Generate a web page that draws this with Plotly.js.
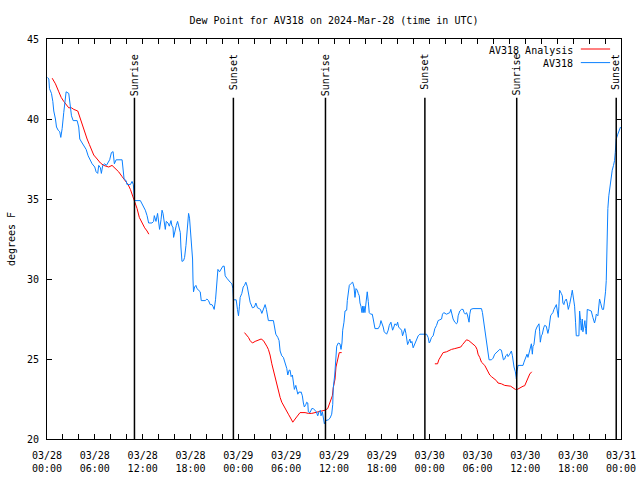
<!DOCTYPE html>
<html>
<head>
<meta charset="utf-8">
<script src="https://cdn.plot.ly/plotly-3.0.1.min.js"></script>
<style>html,body{margin:0;padding:0;background:#fff}#chart{width:640px;height:480px}</style>
</head>
<body>
<div id="chart"></div>
<script>
// Hours since 2024-03-28 00:00 UTC
const startUTC = Date.UTC(2024, 2, 28);

const av318Hours = [0.06,0.23,0.31,0.56,0.73,0.85,1.06,1.19,1.40,1.60,1.73,1.90,2.10,2.32,2.40,2.73,2.85,3.07,3.28,3.78,3.98,4.11,4.41,4.70,4.91,5.16,5.45,5.66,5.99,6.16,6.36,6.49,6.70,6.82,6.99,7.24,7.45,7.66,7.86,8.08,8.29,8.45,8.67,9.42,9.54,9.67,9.92,10.04,10.46,10.67,10.83,10.92,10.99,11.71,11.92,12.25,12.33,12.55,12.75,13.17,13.37,13.46,13.67,13.87,14.00,14.12,14.30,14.43,14.55,14.71,14.84,14.96,15.18,15.34,15.55,15.68,15.80,15.88,16.00,16.22,16.38,16.55,16.72,16.80,16.93,17.13,17.26,17.43,17.56,17.76,17.88,17.97,18.09,18.26,18.31,18.38,18.51,18.68,18.81,19.01,19.22,19.35,19.85,20.06,20.26,20.47,20.69,20.81,20.97,21.14,21.22,21.31,21.44,21.64,21.81,22.06,22.23,22.35,22.56,22.77,22.98,23.19,23.32,23.39,23.73,23.89,24.02,24.14,24.23,24.44,24.61,24.77,24.94,25.11,25.27,25.48,25.77,26.02,26.20,26.40,26.61,26.77,26.95,27.15,27.36,27.52,27.65,27.77,28.40,28.53,28.70,28.95,29.11,29.24,29.45,29.65,29.87,30.08,30.20,30.37,30.49,30.62,30.78,30.90,31.03,31.21,31.33,31.46,31.62,31.74,31.87,32.03,32.16,32.28,32.46,32.58,32.71,32.78,32.99,33.21,33.41,33.62,33.78,33.96,34.12,34.29,34.37,34.54,34.66,34.79,34.96,35.29,35.50,35.71,35.84,35.91,36.09,36.13,36.25,36.34,36.54,36.75,36.88,37.00,37.09,37.25,37.38,37.59,37.67,37.79,37.92,38.09,38.34,38.51,38.63,38.76,38.92,39.04,39.17,39.26,39.38,39.51,39.59,39.67,39.76,39.88,40.01,40.17,40.30,40.42,40.60,40.80,40.92,41.05,41.14,41.55,41.76,41.89,42.05,42.17,42.30,42.60,42.80,42.93,43.14,43.23,43.35,43.51,43.64,43.85,43.98,44.10,44.27,44.48,44.60,44.77,44.89,45.02,45.10,45.23,45.39,45.51,45.64,45.77,45.93,46.14,46.36,46.56,46.77,47.61,47.81,47.94,48.02,48.23,48.44,48.65,48.86,49.06,49.27,49.49,49.61,49.77,50.11,50.31,50.53,50.65,50.81,50.94,51.15,51.37,51.49,51.57,51.78,51.99,52.19,52.32,52.49,52.62,52.74,52.82,52.94,53.03,53.15,53.44,54.07,54.50,54.62,54.78,54.91,55.03,55.16,55.32,55.45,55.75,55.95,56.16,56.37,56.57,56.79,57.00,57.12,57.25,57.41,57.54,57.75,57.83,58.04,58.17,58.25,58.38,58.45,58.58,58.75,58.88,58.95,59.08,59.58,59.71,59.83,60.04,60.21,60.33,60.46,60.63,60.76,60.88,60.96,61.08,61.17,61.29,61.46,61.58,61.71,61.80,61.88,62.01,62.13,62.30,62.42,62.63,62.71,62.83,62.96,63.05,63.17,63.30,63.46,63.59,63.76,63.89,64.01,64.14,64.21,64.30,64.51,64.64,64.71,64.84,64.93,65.14,65.26,65.39,65.55,65.68,65.77,65.89,66.05,66.18,66.30,66.39,66.72,66.81,66.93,67.02,67.14,67.22,67.34,67.47,67.56,67.64,67.77,67.97,68.27,68.47,68.68,68.81,68.90,69.10,69.22,69.31,69.47,69.65,69.81,69.94,70.06,70.15,70.22,70.35,70.47,70.65,70.77,70.90,71.06,71.19,71.28,71.40,71.60,71.81,71.94];

const av318DewF = [42.6,42.5,41.9,41.6,41.1,40.5,40.0,39.5,39.3,39.2,38.85,39.4,40.4,41.7,41.7,41.6,41.0,40.2,39.9,39.9,39.5,38.75,38.5,38.3,38.1,37.7,37.4,37.2,37.0,36.7,36.6,37.1,36.95,36.6,37.1,37.2,37.1,37.3,37.45,37.9,37.96,37.2,37.45,37.45,36.9,36.25,36.15,35.9,35.9,36.1,35.9,35.3,34.9,34.9,34.7,34.4,34.3,33.96,33.5,33.5,33.6,33.96,33.6,34.1,33.65,33.1,33.7,34.3,34.1,33.6,33.1,33.6,33.5,33.3,33.65,33.3,33.25,32.6,32.95,33.35,33.6,33.3,32.9,32.0,31.1,31.15,31.35,32.1,33.1,34.1,33.8,33.3,32.3,31.25,30.0,29.2,29.5,29.6,29.4,29.3,29.2,28.65,28.65,28.75,28.65,28.4,28.4,28.3,28.1,28.7,29.4,29.9,30.6,30.45,30.6,30.8,30.8,30.2,30.05,29.9,29.8,29.7,29.4,28.7,28.7,28.1,27.7,28.3,28.85,29.1,29.5,29.6,29.8,29.55,29.2,28.55,28.2,28.25,28.5,28.2,28.15,28.1,27.85,28.1,28.4,28.1,27.7,27.4,27.4,27.1,26.55,26.35,26.15,25.5,25.2,25.1,24.8,24.4,24.0,24.3,24.3,23.9,24.0,23.55,23.1,23.35,23.1,22.8,22.95,22.9,22.95,22.7,22.25,22.0,22.15,22.3,22.25,21.7,21.65,21.9,21.9,21.8,21.7,21.45,21.7,21.8,21.45,21.7,21.3,20.95,21.15,21.2,21.3,21.55,22.15,23.2,24.0,24.4,25.2,25.8,26.0,25.95,25.6,26.0,26.8,27.3,28.0,28.05,28.65,29.2,29.6,29.7,29.8,29.5,28.85,29.4,29.3,29.1,28.95,28.5,28.3,27.9,28.3,27.9,28.3,27.9,28.4,29.2,28.6,27.9,27.8,27.8,27.5,27.2,26.9,26.9,27.1,27.4,27.2,27.0,26.7,26.55,26.8,27.1,27.3,27.1,26.8,27.0,27.2,27.1,27.3,27.0,26.9,26.8,26.45,26.8,26.9,26.6,26.25,25.9,26.1,26.25,26.0,26.1,25.7,25.95,26.15,26.45,26.55,26.55,26.35,26.0,26.05,26.35,26.45,26.9,27.1,27.4,27.45,27.5,27.8,27.9,27.8,27.85,27.9,28.1,27.8,27.5,27.3,27.2,27.3,27.7,28.0,28.1,28.1,27.9,27.8,27.9,27.75,27.5,27.3,27.8,28.1,28.15,28.15,28.15,27.9,27.3,27.0,26.25,25.8,25.3,24.95,24.95,25.05,25.3,25.4,25.45,25.6,25.55,25.3,24.95,25.0,25.2,25.3,25.15,25.3,25.4,25.5,25.2,24.9,24.5,24.2,23.75,24.2,24.6,24.6,24.6,24.8,25.1,25.3,25.1,25.4,25.7,25.95,25.3,25.8,25.9,26.4,26.8,27.0,27.1,27.2,26.7,26.05,26.45,26.55,26.95,27.1,27.05,26.9,26.6,26.9,27.2,27.7,27.8,27.9,28.1,28.3,28.4,28.0,27.6,28.3,29.3,29.1,28.95,28.5,28.4,28.6,28.75,28.5,28.1,28.4,28.65,28.95,29.3,28.85,28.3,27.3,26.45,26.45,28.0,27.4,26.8,27.5,26.7,27.0,27.4,26.9,26.55,28.1,28.05,28.0,27.6,27.25,27.5,27.8,27.7,28.2,28.75,28.45,28.1,28.1,28.55,29.2,29.9,32.1,34.4,35.2,35.9,36.45,36.8,37.1,37.4,37.9,38.75,39.05,39.4,39.5];

// AV318 Analysis (null separates the three analysis windows)
const analysisHours = [0.65,1.06,1.48,1.78,2.10,2.53,2.73,3.07,3.36,3.86,4.11,4.41,4.73,5.03,5.32,5.57,5.86,6.29,6.70,7.11,7.74,8.16,8.58,8.99,9.42,9.83,10.17,10.46,10.74,10.99,11.30,11.58,11.92,12.25,12.55,12.77,
  12.9,
  24.77,25.07,25.27,25.48,25.77,26.11,26.52,26.86,27.15,27.36,27.57,27.77,27.98,28.20,28.40,28.61,28.83,29.03,29.24,29.45,29.65,29.87,30.28,30.62,30.83,31.12,31.46,31.74,32.37,32.78,33.21,33.62,34.04,34.46,34.87,35.21,35.50,35.79,35.91,36.13,36.25,36.41,36.54,36.66,36.96,
  37.1,
  48.65,48.99,49.15,49.40,49.69,50.11,50.31,50.74,51.15,51.57,51.90,52.12,52.32,52.62,52.91,53.16,53.44,53.74,53.94,54.07,54.28,54.50,54.91,55.12,55.32,55.54,55.75,56.16,56.37,56.57,57.00,57.41,57.83,58.17,58.45,58.75,59.00,59.29,59.71,59.92,60.13,60.33,60.55,60.80];
const analysisDewF = [42.55,42.2,41.7,41.35,41.1,40.8,40.7,40.7,40.6,40.5,40.1,39.6,39.2,38.75,38.4,38.1,37.75,37.5,37.25,37.1,37.0,37.1,36.9,36.7,36.4,36.15,35.9,35.6,35.2,34.8,34.4,33.85,33.5,33.2,33.0,32.8,
  null,
  26.65,26.5,26.35,26.15,26.0,26.1,26.2,26.25,26.15,26.0,25.8,25.6,25.25,24.7,24.3,23.75,23.4,23.1,22.6,22.3,22.1,21.9,21.55,21.25,21.05,21.25,21.45,21.65,21.65,21.6,21.6,21.65,21.7,21.75,21.8,21.9,22.3,22.7,23.2,23.75,24.5,24.8,25.1,25.4,25.4,
  null,
  24.7,24.7,24.95,25.2,25.4,25.45,25.5,25.6,25.65,25.7,25.75,25.9,26.05,26.2,26.15,26.05,25.9,25.8,25.6,25.3,25.1,24.8,24.6,24.4,24.2,24.0,23.9,23.75,23.65,23.5,23.45,23.35,23.3,23.3,23.2,23.1,23.1,23.2,23.3,23.33,23.55,23.8,24.06,24.2];

const sunEventHours = [10.97, 23.38, 34.93, 47.40, 58.92, 71.40];
const sunEventNames = ["Sunrise", "Sunset", "Sunrise", "Sunset", "Sunrise", "Sunset"];

const seriesNames = ["AV318 Analysis", "AV318"];
const seriesColors = ["#ff0000", "#0a80ff"];

function toDate(h) {
  if (h === null) return null;
  const d = new Date(startUTC + h * 3600000);
  return d.toISOString().slice(0, 19).replace('T', ' ');
}

const FONT = "DejaVu Sans Mono, monospace";

const traces = [
  {
    x: analysisHours.map(toDate), y: analysisDewF, type: 'scatter', mode: 'lines',
    name: seriesNames[0], line: {color: seriesColors[0], width: 1}, connectgaps: false, showlegend: false
  },
  {
    x: av318Hours.map(toDate), y: av318DewF, type: 'scatter', mode: 'lines',
    name: seriesNames[1], line: {color: seriesColors[1], width: 1}, showlegend: false
  }
];

const shapes = [];
const annotations = [];
sunEventHours.forEach((h, i) => {
  shapes.push({type: 'line', xref: 'x', yref: 'paper', x0: toDate(h), x1: toDate(h), y0: 0, y1: 0.853,
    line: {color: '#000', width: 1.5}});
  annotations.push({xref: 'x', yref: 'paper', x: toDate(h), y: 0.968, text: sunEventNames[i],
    textangle: -90, showarrow: false, xanchor: 'center', yanchor: 'top',
    font: {family: FONT, size: 10, color: '#000'}});
});

// Key (gnuplot style: right-aligned text, sample line to the right)
const keyY = [0.972, 0.938];
seriesNames.forEach((n, i) => {
  annotations.push({xref: 'paper', yref: 'paper', x: 0.92, y: keyY[i], text: n, showarrow: false,
    xanchor: 'right', yanchor: 'middle', font: {family: FONT, size: 10, color: '#000'}});
  shapes.push({type: 'line', xref: 'paper', yref: 'paper', x0: 0.930, x1: 0.981, y0: keyY[i] + 0.003, y1: keyY[i] + 0.003,
    line: {color: seriesColors[i], width: 1}});
});

const layout = {
  width: 640, height: 480,
  margin: {l: 47, r: 19, t: 39, b: 41},
  paper_bgcolor: '#fff', plot_bgcolor: '#fff',
  font: {family: FONT, size: 10, color: '#000'},
  title: {text: 'Dew Point for AV318 on 2024-Mar-28 (time in UTC)', x: 0.5, xref: 'paper',
    y: 1 - 20/480, yanchor: 'middle', font: {family: FONT, size: 10, color: '#000'}},
  xaxis: {
    type: 'date', range: [toDate(0), toDate(72)],
    dtick: 6 * 3600000, tick0: toDate(0), tickformat: '%m/%d<br>%H:%M',
    ticks: 'inside', ticklen: 5, tickcolor: '#000', tickwidth: 1,
    minor: {dtick: 2 * 3600000, ticks: 'inside', ticklen: 5, tickcolor: '#000', tickwidth: 1, showgrid: false},
    showline: true, linecolor: '#000', linewidth: 1, mirror: 'ticks',
    showgrid: false, zeroline: false, ticklabelstandoff: 7,
    tickfont: {family: FONT, size: 10, color: '#000'}
  },
  yaxis: {
    range: [20, 45], dtick: 5, tick0: 20,
    ticks: 'inside', ticklen: 5, tickcolor: '#000', tickwidth: 1,
    showline: true, linecolor: '#000', linewidth: 1, mirror: 'ticks',
    showgrid: false, zeroline: false, ticklabelstandoff: 5,
    tickfont: {family: FONT, size: 10, color: '#000'},
    title: {text: 'degrees F', standoff: 9, font: {family: FONT, size: 10, color: '#000'}}
  },
  shapes: shapes,
  annotations: annotations,
  showlegend: false
};

Plotly.newPlot('chart', traces, layout, {staticPlot: true, displayModeBar: false});
</script>
</body>
</html>
